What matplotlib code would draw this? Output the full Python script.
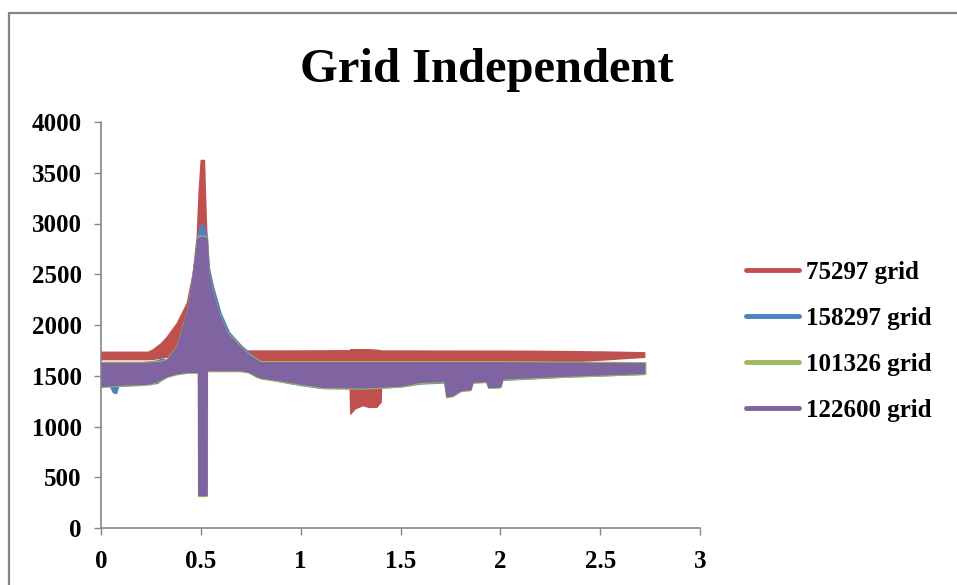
import matplotlib
matplotlib.use('Agg')
import matplotlib.pyplot as plt
from matplotlib.lines import Line2D
from matplotlib.patches import Rectangle

# series names / colours (Excel 2007 defaults)
names = ['75297 grid', '158297 grid', '101326 grid', '122600 grid']
colors = ['#C0504D', '#4F81BD', '#9BBB59', '#8064A2']

xticks = [0, 0.5, 1, 1.5, 2, 2.5, 3]
xtick_labels = ['0', '0.5', '1', '1.5', '2', '2.5', '3']
yticks = [0, 500, 1000, 1500, 2000, 2500, 3000, 3500, 4000]

# each series is a thick oscillating band -> upper / lower envelope
# 75297 grid
red_x = [0.0, 0.235, 0.26, 0.30, 0.33, 0.38, 0.43, 0.46, 0.48, 0.49, 0.50, 0.515, 0.52,
         0.525, 0.535, 0.55, 0.60, 0.65, 0.72, 0.9, 1.244, 1.249, 1.27, 1.31, 1.34, 1.379,
         1.40, 1.404, 1.5, 2.15, 2.5, 2.72]
red_hi = [1735, 1735, 1760, 1820, 1885, 2020, 2217, 2512, 2870, 3330, 3625, 3625, 3300,
          3000, 2500, 2300, 2000, 1850, 1747, 1747, 1750, 1760, 1760, 1760, 1760, 1755,
          1750, 1747, 1747, 1745, 1738, 1730]
red_lo = [1665, 1665, 1668, 1680, 1690, 1700, 1700, 1700, 1700, 1700, 1700, 1700, 1700,
          1700, 1700, 1700, 1700, 1650, 1600, 1600, 1600, 1130, 1179, 1212, 1195, 1195,
          1244, 1600, 1600, 1620, 1660, 1688]

# 158297 grid
blue_x = [0.0, 0.045, 0.06, 0.075, 0.085, 0.2, 0.28, 0.30, 0.33, 0.38, 0.43, 0.454, 0.475,
          0.48, 0.487, 0.488, 0.495, 0.505, 0.515, 0.528, 0.529, 0.54, 0.56, 0.598, 0.64,
          0.70, 0.745, 0.79, 0.81, 0.9, 1.0, 1.11, 1.31, 1.5, 1.6, 2.0, 2.3, 2.72]
blue_hi = [1625, 1625, 1625, 1625, 1625, 1630, 1650, 1665, 1660, 1790, 2120, 2415, 2710,
           2837, 2900, 2920, 2960, 3005, 2960, 2880, 2870, 2560, 2380, 2118, 1930, 1800,
           1724, 1650, 1632, 1632, 1632, 1632, 1632, 1632, 1632, 1632, 1628, 1622]
blue_lo = [1400, 1400, 1340, 1330, 1400, 1415, 1430, 1460, 1495, 1525, 1538, 1538, 1538,
           1538, 1538, 330, 325, 325, 325, 330, 1555, 1555, 1555, 1555, 1555, 1555,
           1540, 1495, 1480, 1445, 1410, 1380, 1375, 1395, 1425, 1460, 1490, 1520]

# 101326 grid
green_x = [0.0, 0.1, 0.2, 0.25, 0.3, 0.33, 0.38, 0.43, 0.454, 0.475, 0.482, 0.486, 0.487,
           0.505, 0.529, 0.530, 0.537, 0.554, 0.587, 0.629, 0.695, 0.737, 0.779, 0.80,
           0.895, 1.0, 1.11, 1.31, 1.5, 1.6, 1.72, 1.73, 1.76, 1.8, 1.85, 1.86, 1.93,
           1.94, 1.99, 2.0, 2.01, 2.26, 2.5, 2.725]
green_hi = [1636, 1636, 1636, 1638, 1645, 1665, 1798, 2130, 2425, 2722, 2850, 2872, 2875,
            2880, 2870, 2865, 2522, 2356, 2128, 1932, 1796, 1720, 1665, 1642,
            1642, 1642, 1642, 1642, 1642, 1642, 1642, 1642, 1642, 1642, 1642, 1642, 1642,
            1642, 1642, 1642, 1642, 1638, 1635, 1632]
green_lo = [1390, 1405, 1410, 1418, 1460, 1490, 1517, 1530, 1530, 1530, 1530, 1530, 318,
            316, 318, 1547, 1547, 1547, 1547, 1547, 1547, 1535, 1490, 1475,
            1448, 1415, 1382, 1376, 1395, 1432, 1440, 1290, 1300, 1350, 1360, 1432, 1440,
            1382, 1385, 1390, 1465, 1488, 1505, 1520]

# 122600 grid
purple_x = [0.0, 0.1, 0.2, 0.25, 0.3, 0.33, 0.38, 0.43, 0.454, 0.475, 0.482, 0.487, 0.488,
            0.505, 0.528, 0.529, 0.537, 0.554, 0.587, 0.629, 0.695, 0.737, 0.779, 0.80,
            0.895, 1.0, 1.11, 1.31, 1.5, 1.6, 1.72, 1.73, 1.76, 1.8, 1.85, 1.86, 1.93,
            1.94, 1.99, 2.0, 2.01, 2.26, 2.5, 2.72]
purple_hi = [1625, 1625, 1625, 1628, 1635, 1655, 1786, 2118, 2413, 2709, 2837, 2860, 2860,
             2870, 2860, 2855, 2512, 2345, 2118, 1921, 1786, 1710, 1655, 1632,
             1632, 1632, 1632, 1632, 1632, 1632, 1632, 1632, 1632, 1632, 1632, 1632, 1632,
             1632, 1632, 1632, 1632, 1628, 1625, 1622]
purple_lo = [1400, 1415, 1420, 1428, 1470, 1500, 1527, 1540, 1540, 1540, 1540, 1540, 330,
             325, 330, 1557, 1557, 1557, 1557, 1557, 1557, 1545, 1500, 1485,
             1458, 1425, 1392, 1386, 1405, 1442, 1450, 1300, 1310, 1360, 1370, 1442, 1450,
             1392, 1395, 1400, 1475, 1498, 1515, 1530]

series = [(red_x, red_lo, red_hi), (blue_x, blue_lo, blue_hi),
          (green_x, green_lo, green_hi), (purple_x, purple_lo, purple_hi)]

plt.rcParams['font.family'] = ['Liberation Serif', 'DejaVu Serif']
plt.rcParams['font.weight'] = 'bold'

fig = plt.figure(figsize=(9.57, 5.85), dpi=100)
ax = fig.add_axes([101 / 957, 57 / 585, 599 / 957, 406 / 585])

for (x, lo, hi), c in zip(series, colors):
    ax.fill_between(x, lo, hi, facecolor=c, edgecolor=c, linewidth=1.2)

ax.set_xlim(0, 3)
ax.set_ylim(0, 4000)
ax.set_xticks(xticks)
ax.set_xticklabels(xtick_labels)
ax.set_yticks(yticks)
ax.tick_params(labelsize=18, length=5, width=1, color='#868686', pad=9)
ax.tick_params(axis='x', pad=11)
for s in ['top', 'right']:
    ax.spines[s].set_visible(False)
for s in ['left', 'bottom']:
    ax.spines[s].set_color('#868686')
    ax.spines[s].set_linewidth(1.2)

fig.text(0.509, 0.881, 'Grid Independent', ha='center', va='center', fontsize=35, fontweight='bold')

handles = [Line2D([], [], color=c, lw=3.5, solid_capstyle='round') for c in colors]
fig.legend(handles, names, loc='center left', bbox_to_anchor=(746 / 957, 1 - 341 / 585),
           frameon=False, fontsize=18, handlelength=2.1, handletextpad=0.3,
           labelspacing=0.92, borderpad=0, borderaxespad=0)

# outer chart-area border (only top and left edges are in view)
fig.patches.append(Rectangle((9 / 957, -0.1), 1.2, 1 - 13 / 585 + 0.1, transform=fig.transFigure,
                             fill=False, edgecolor='#858585', linewidth=1.6))

fig.savefig('out.png', dpi=100)
plt.close(fig)
